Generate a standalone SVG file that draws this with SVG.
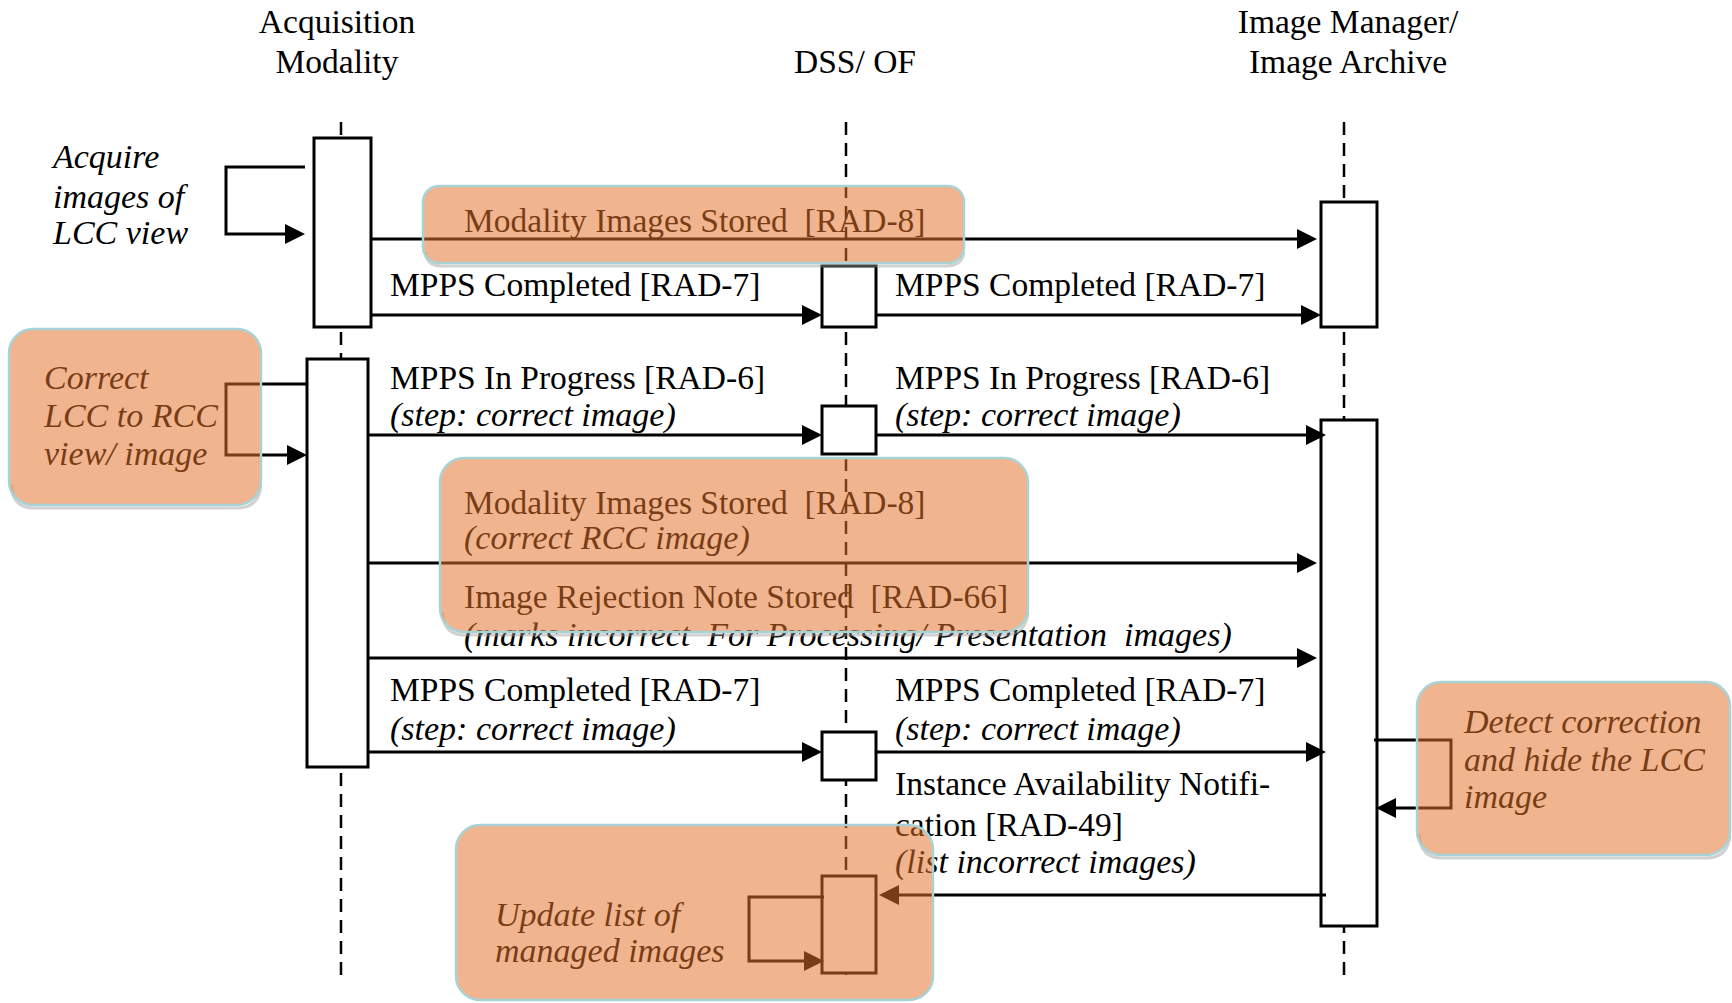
<svg xmlns="http://www.w3.org/2000/svg" width="1732" height="1003" viewBox="0 0 1732 1003">
<style>
text{font-family:"Liberation Serif","Times New Roman",serif;font-size:33.5px;fill:#000}
.it{font-style:italic;font-size:34px}
.mid{text-anchor:middle}
.life{stroke:#000;stroke-width:2.5;stroke-dasharray:13 8;fill:none}
.act{fill:#fff;stroke:#000;stroke-width:3}
.msg{stroke:#000;stroke-width:3;fill:none;marker-end:url(#ah)}
.ov{fill:#E2712A;fill-opacity:0.53;stroke:#A9D2D6;stroke-width:2.5}
.sh{fill:none;stroke:#9a9a9a;stroke-opacity:0.45;stroke-width:3}
</style>
<defs>
<marker id="ah" markerUnits="userSpaceOnUse" viewBox="0 0 20 20" refX="10" refY="10" markerWidth="20" markerHeight="20" orient="auto">
<path d="M0,0 L20,10 L0,20 z" fill="#000"/>
</marker>
</defs>
<rect width="1732" height="1003" fill="#fff"/>

<g id="acquisition-modality">
<text class="mid" x="337" y="33">Acquisition</text>
<text class="mid" x="337" y="73">Modality</text>
<line class="life" x1="341" y1="122" x2="341" y2="983"/>
<rect class="act" x="314" y="138" width="57" height="189"/>
<rect class="act" x="307" y="359" width="61" height="408"/>
</g>

<g id="dss-of">
<text class="mid" x="855" y="73">DSS/ OF</text>
<line class="life" x1="846" y1="122" x2="846" y2="983"/>
<rect class="act" x="822" y="266" width="54" height="61"/>
<rect class="act" x="822" y="406" width="54" height="48"/>
<rect class="act" x="822" y="732" width="54" height="48"/>
<rect class="act" x="822" y="876" width="54" height="97"/>
</g>

<g id="image-manager">
<text class="mid" x="1348" y="33">Image Manager/</text>
<text class="mid" x="1348" y="73">Image Archive</text>
<line class="life" x1="1344" y1="122" x2="1344" y2="983"/>
<rect class="act" x="1321" y="202" width="56" height="125"/>
<rect class="act" x="1321" y="420" width="56" height="506"/>
</g>

<g id="connectors">
<line class="msg" x1="371" y1="239" x2="1307" y2="239"/>
<line class="msg" x1="371" y1="315" x2="812" y2="315"/>
<line class="msg" x1="876" y1="315" x2="1311" y2="315"/>
<line class="msg" x1="368" y1="435" x2="812" y2="435"/>
<line class="msg" x1="876" y1="435" x2="1316" y2="435"/>
<line class="msg" x1="368" y1="563" x2="1307" y2="563"/>
<line class="msg" x1="368" y1="658" x2="1307" y2="658"/>
<line class="msg" x1="368" y1="752" x2="812" y2="752"/>
<line class="msg" x1="876" y1="752" x2="1316" y2="752"/>
<line class="msg" x1="1326" y1="895" x2="889" y2="895"/>
<polyline class="msg" points="305,167 226,167 226,234 295,234"/>
<polyline class="msg" points="307,384 226,384 226,455 297,455"/>
<polyline class="msg" points="1374,740 1451,740 1451,808 1386,808"/>
<polyline class="msg" points="824,897 749,897 749,961 814,961"/>
</g>

<g id="labels">
<text x="464" y="232">Modality Images Stored&#160; [RAD-8]</text>
<text x="390" y="296">MPPS Completed [RAD-7]</text>
<text x="895" y="296">MPPS Completed [RAD-7]</text>
<text x="390" y="389">MPPS In Progress [RAD-6]</text>
<text class="it" x="390" y="426">(step: correct image)</text>
<text x="895" y="389">MPPS In Progress [RAD-6]</text>
<text class="it" x="895" y="426">(step: correct image)</text>
<text x="464" y="514">Modality Images Stored&#160; [RAD-8]</text>
<text class="it" x="464" y="549">(correct RCC image)</text>
<text x="464" y="608">Image Rejection Note Stored&#160; [RAD-66]</text>
<text class="it" x="464" y="646">(marks incorrect&#160; For Processing/ Presentation&#160; images)</text>
<text x="390" y="701">MPPS Completed [RAD-7]</text>
<text class="it" x="390" y="740">(step: correct image)</text>
<text x="895" y="701">MPPS Completed [RAD-7]</text>
<text class="it" x="895" y="740">(step: correct image)</text>
<text x="895" y="795">Instance Availability Notifi-</text>
<text x="895" y="836">cation [RAD-49]</text>
<text class="it" x="895" y="873">(list incorrect images)</text>
<text class="it" x="53" y="168">Acquire</text>
<text class="it" x="53" y="208">images of</text>
<text class="it" x="53" y="244">LCC view</text>
<text class="it" x="44" y="389">Correct</text>
<text class="it" x="44" y="427">LCC to RCC</text>
<text class="it" x="44" y="465">view/ image</text>
<text class="it" x="1464" y="733">Detect correction</text>
<text class="it" x="1464" y="771">and hide the LCC</text>
<text class="it" x="1464" y="808">image</text>
<text class="it" x="495" y="926">Update list of</text>
<text class="it" x="495" y="962">managed images</text>
</g>

<g id="highlight-rad8">
<path class="sh" d="M425,252 Q427,266 441,266 L946,266 Q962,266 964,252"/>
<rect class="ov" x="423" y="186" width="541" height="77" rx="16"/>
</g>
<g id="highlight-rad8-rad66">
<path class="sh" d="M442,612 Q444,635 464,635 L1004,635 Q1026,635 1028,612"/>
<rect class="ov" x="440" y="458" width="588" height="174" rx="24"/>
</g>
<g id="highlight-correct">
<path class="sh" d="M11,485 Q13,508 33,508 L237,508 Q259,508 261,485"/>
<rect class="ov" x="9" y="329" width="252" height="176" rx="24"/>
</g>
<g id="highlight-detect">
<path class="sh" d="M1419,835 Q1421,858 1441,858 L1706,858 Q1728,858 1730,835"/>
<rect class="ov" x="1417" y="682" width="313" height="173" rx="24"/>
</g>
<g id="highlight-update">
<rect class="ov" x="456" y="825" width="477" height="175" rx="24"/>
</g>
</svg>
